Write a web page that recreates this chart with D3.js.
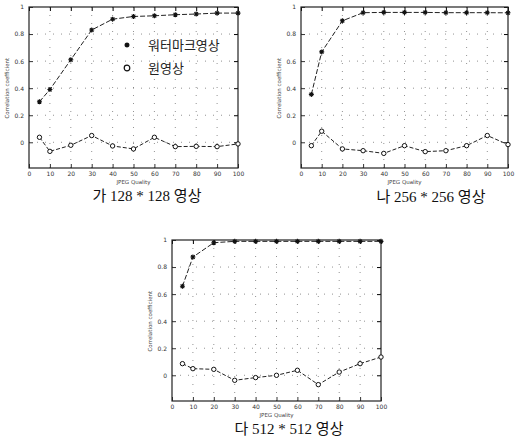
<!DOCTYPE html>
<html>
<head>
<meta charset="utf-8">
<script src="https://cdn.jsdelivr.net/npm/d3@7"></script>
<style>
  body { margin: 0; background: #fff; }
  svg { display: block; }
  .tick-label { font-family: "DejaVu Sans", sans-serif; font-size: 6px; fill: #333; }
  .axis-title { font-family: "DejaVu Sans", sans-serif; font-size: 5.5px; fill: #444; }
  .caption { font-family: "Liberation Serif", "Noto Sans CJK KR", serif; font-size: 15px; fill: #111; }
  .legend-text { font-family: "Noto Sans CJK KR", sans-serif; font-size: 13px; fill: #222; }
</style>
</head>
<body>
<div id="chart"></div>
<script>
// JPEG quality on the x axis
var quality = [5, 10, 20, 30, 40, 50, 60, 70, 80, 90, 100];
var xTicks = [0, 10, 20, 30, 40, 50, 60, 70, 80, 90, 100];
var yTicks = [0, 0.2, 0.4, 0.6, 0.8, 1];
var yTickLabels = ["0", "0.2", "0.4", "0.6", "0.8", "1"];

// correlation coefficient, watermarked image vs original image
var wm128 = [0.30, 0.39, 0.61, 0.83, 0.91, 0.93, 0.935, 0.943, 0.948, 0.955, 0.955];
var orig128 = [0.037, -0.067, -0.022, 0.05, -0.027, -0.049, 0.037, -0.032, -0.03, -0.032, -0.012];
var wm256 = [0.354, 0.668, 0.898, 0.958, 0.96, 0.96, 0.96, 0.958, 0.958, 0.958, 0.957];
var orig256 = [-0.025, 0.082, -0.049, -0.062, -0.082, -0.025, -0.069, -0.062, -0.025, 0.05, -0.017];
var wm512 = [0.658, 0.874, 0.98, 0.99, 0.99, 0.99, 0.99, 0.99, 0.99, 0.99, 0.99];
var orig512 = [0.086, 0.049, 0.044, -0.037, -0.017, 0.0, 0.037, -0.069, 0.024, 0.086, 0.135];

var captions = ["가 128 * 128 영상", "나 256 * 256 영상", "다 512 * 512 영상"];
var legendLabels = ["워터마크영상", "원영상"];

var svg = d3.select("#chart").append("svg")
    .attr("width", 516)
    .attr("height", 441);

//panel boxes on the page
var panels = [
    { left: 29, top: 7, width: 209, height: 161, wm: wm128, orig: orig128, caption: captions[0], capX: 147, capY: 201, legend: true },
    { left: 301, top: 7, width: 207, height: 161, wm: wm256, orig: orig256, caption: captions[1], capX: 431, capY: 202, legend: false },
    { left: 172, top: 240, width: 209, height: 161, wm: wm512, orig: orig512, caption: captions[2], capX: 289, capY: 434, legend: false }
];

var starPath = "M-2.5,0H2.5M0,-2.5V2.5M-1.8,-1.8L1.8,1.8M-1.8,1.8L1.8,-1.8";

function drawPanel(p) {
    var g = svg.append("g").attr("transform", "translate(" + p.left + "," + p.top + ")");
    var x = d3.scaleLinear().domain([0, 100]).range([0, p.width]);
    var y = d3.scaleLinear().domain([-0.19, 1]).range([p.height, 0]);

    //dotted grid
    g.selectAll(".vgrid").data(xTicks.slice(1, -1)).enter().append("line")
        .attr("x1", d => x(d)).attr("x2", d => x(d))
        .attr("y1", 0).attr("y2", p.height)
        .attr("stroke", "#666").attr("stroke-width", 1)
        .attr("stroke-dasharray", "1,7").attr("opacity", 0.7);
    g.selectAll(".hgrid").data(yTicks.slice(0, -1)).enter().append("line")
        .attr("x1", 0).attr("x2", p.width)
        .attr("y1", d => y(d)).attr("y2", d => y(d))
        .attr("stroke", "#666").attr("stroke-width", 1)
        .attr("stroke-dasharray", "1,7").attr("opacity", 0.7);

    //axes with inward ticks
    var xAxis = d3.axisBottom(x).tickValues(xTicks).tickSize(-4).tickPadding(4).tickFormat(d3.format("d"));
    var yAxis = d3.axisLeft(y).tickValues(yTicks).tickSize(-4).tickPadding(5).tickFormat((d, i) => yTickLabels[i]);
    var xa = g.append("g").attr("transform", "translate(0," + p.height + ")").call(xAxis);
    var ya = g.append("g").call(yAxis);
    [xa, ya].forEach(function(a) {
        a.select(".domain").remove();
        a.selectAll("text").attr("class", "tick-label").attr("font-size", null).attr("font-family", null);
        a.selectAll("line").attr("stroke", "#333");
    });
    g.append("g").call(d3.axisTop(x).tickValues(xTicks).tickSize(-4).tickFormat(""))
        .call(a => a.select(".domain").remove());
    g.append("g").attr("transform", "translate(" + p.width + ",0)")
        .call(d3.axisRight(y).tickValues(yTicks).tickSize(-4).tickFormat(""))
        .call(a => a.select(".domain").remove());

    g.append("rect")
        .attr("width", p.width).attr("height", p.height)
        .attr("fill", "none").attr("stroke", "#222").attr("stroke-width", 1.2);

    //axis titles
    g.append("text").attr("class", "axis-title")
        .attr("x", x(50)).attr("y", p.height + 16)
        .attr("text-anchor", "middle").text("JPEG Quality");
    g.append("text").attr("class", "axis-title")
        .attr("transform", "translate(-20," + y(0.4) + ") rotate(-90)")
        .attr("text-anchor", "middle").text("Correlation coefficient");

    var line = d3.line().x((d, i) => x(quality[i])).y(d => y(d));

    g.append("path").datum(p.wm).attr("d", line)
        .attr("fill", "none").attr("stroke", "#222").attr("stroke-width", 1)
        .attr("stroke-dasharray", "5,2");
    g.append("path").datum(p.orig).attr("d", line)
        .attr("fill", "none").attr("stroke", "#222").attr("stroke-width", 1)
        .attr("stroke-dasharray", "4,2");

    //'*' markers
    g.selectAll(".wm-dot").data(p.wm).enter().append("path")
        .attr("transform", (d, i) => "translate(" + x(quality[i]) + "," + y(d) + ")")
        .attr("d", starPath)
        .attr("stroke", "#111").attr("stroke-width", 1.1);
    //'o' markers
    g.selectAll(".orig-dot").data(p.orig).enter().append("circle")
        .attr("cx", (d, i) => x(quality[i])).attr("cy", d => y(d))
        .attr("r", 2.2).attr("fill", "#fff").attr("stroke", "#111").attr("stroke-width", 1);

    if (p.legend) {
        var lg = g.append("g").attr("transform", "translate(98,38)");
        lg.append("path").attr("d", starPath)
            .attr("stroke", "#111").attr("stroke-width", 1.4);
        lg.append("circle").attr("cx", 0).attr("cy", 23).attr("r", 2.8)
            .attr("fill", "none").attr("stroke", "#111").attr("stroke-width", 1.2);
        legendLabels.forEach(function(t, i) {
            lg.append("text").attr("class", "legend-text")
                .attr("x", 21).attr("y", i * 23 + 5).text(t);
        });
    }

    svg.append("text").attr("class", "caption")
        .attr("x", p.capX).attr("y", p.capY)
        .attr("text-anchor", "middle").text(p.caption);
}

panels.forEach(drawPanel);
</script>
</body>
</html>
